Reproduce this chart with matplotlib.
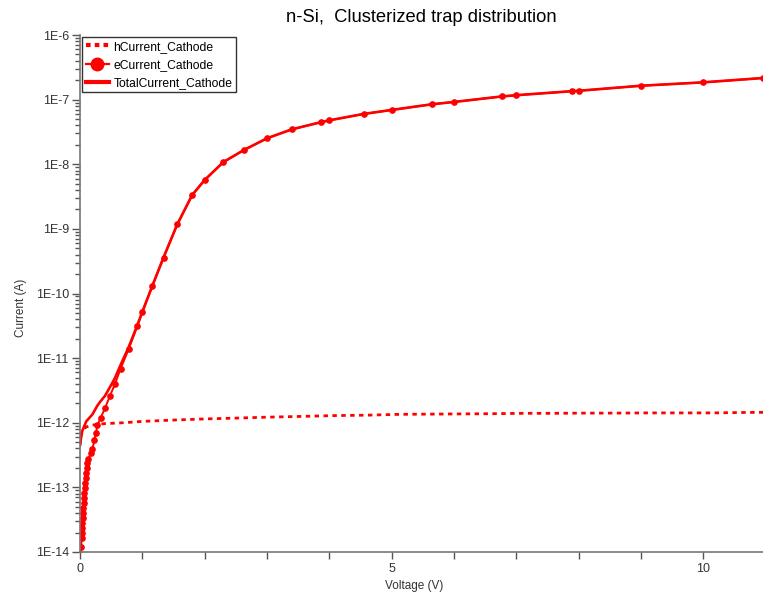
import matplotlib
matplotlib.use("Agg")
import matplotlib.pyplot as plt
from matplotlib.lines import Line2D
from matplotlib.ticker import FixedLocator, LogLocator, NullFormatter, FuncFormatter
import numpy as np

# ---- data ----
e_v = [0.015, 0.02, 0.025, 0.03, 0.035, 0.04, 0.045, 0.05, 0.055, 0.06, 0.065, 0.07, 0.075, 0.08,
       0.09, 0.1, 0.11, 0.12, 0.135, 0.17, 0.2, 0.23, 0.255, 0.28, 0.33, 0.4, 0.48, 0.56, 0.65,
       0.78, 0.92, 1.0, 1.16, 1.34, 1.56, 1.8, 2.0, 2.3, 2.63, 3.0, 3.4, 3.86, 4.0, 4.55, 5.0,
       5.65, 6.0, 6.77, 7.0, 7.89, 8.0, 9.0, 10.0, 10.96]
e_i = [9e-15, 1.21e-14, 1.63e-14, 1.95e-14, 2.33e-14, 2.78e-14, 3.32e-14, 3.97e-14, 4.74e-14,
       5.66e-14, 6.76e-14, 8.09e-14, 9.68e-14, 1.16e-13, 1.38e-13, 1.65e-13, 1.97e-13, 2.36e-13,
       2.72e-13, 3.37e-13, 3.89e-13, 5.4e-13, 6.9e-13, 9.2e-13, 1.18e-12, 1.67e-12, 2.6e-12,
       3.94e-12, 6.8e-12, 1.37e-11, 3.14e-11, 5.1e-11, 1.3e-10, 3.6e-10, 1.17e-9, 3.34e-9,
       5.7e-9, 1.08e-8, 1.66e-8, 2.52e-8, 3.47e-8, 4.46e-8, 4.78e-8, 6.0e-8, 6.92e-8, 8.48e-8,
       9.2e-8, 1.12e-7, 1.17e-7, 1.35e-7, 1.37e-7, 1.64e-7, 1.85e-7, 2.16e-7]

h_v = [0.0, 0.01, 0.03, 0.06, 0.1, 0.2, 0.4, 0.7, 1.0, 1.5, 1.93, 2.5, 3.0, 3.5, 4.07, 4.6,
       5.14, 5.6, 6.1, 6.6, 7.12, 7.6, 8.1, 8.6, 9.1, 9.6, 10.17, 10.6, 10.96]
h_i = [4.5e-13, 5.8e-13, 7.0e-13, 8.0e-13, 8.6e-13, 9.2e-13, 9.7e-13, 1.0e-12, 1.05e-12,
       1.1e-12, 1.14e-12, 1.18e-12, 1.22e-12, 1.25e-12, 1.29e-12, 1.31e-12, 1.35e-12, 1.36e-12,
       1.37e-12, 1.38e-12, 1.40e-12, 1.40e-12, 1.41e-12, 1.41e-12, 1.42e-12, 1.42e-12, 1.42e-12,
       1.44e-12, 1.45e-12]

t_v = [0.0, 0.03, 0.1, 0.2, 0.28, 0.33, 0.4, 0.48, 0.56, 0.65, 0.78, 0.92, 1.0, 1.16, 1.34,
       1.56, 1.8, 2.0, 2.3, 2.63, 3.0, 3.4, 3.86, 4.0, 4.55, 5.0, 5.65, 6.0, 6.77, 7.0, 7.89,
       8.0, 9.0, 10.0, 10.96]
t_i = [4.5e-13, 7.2e-13, 1.05e-12, 1.35e-12, 1.85e-12, 2.15e-12, 2.6e-12, 3.55e-12, 4.9e-12,
       7.8e-12, 1.47e-11, 3.24e-11, 5.2e-11, 1.31e-10, 3.6e-10, 1.17e-9, 3.34e-9, 5.7e-9,
       1.08e-8, 1.66e-8, 2.52e-8, 3.47e-8, 4.46e-8, 4.78e-8, 6.0e-8, 6.92e-8, 8.48e-8, 9.2e-8,
       1.12e-7, 1.17e-7, 1.35e-7, 1.37e-7, 1.64e-7, 1.85e-7, 2.16e-7]

series_names = ["hCurrent_Cathode", "eCurrent_Cathode", "TotalCurrent_Cathode"]
title = "n-Si,  Clusterized trap distribution"
x_label = "Voltage (V)"
y_label = "Current (A)"
x_ticks = [0, 5, 10]
y_ticks = [1e-14, 1e-13, 1e-12, 1e-11, 1e-10, 1e-9, 1e-8, 1e-7, 1e-6]
y_tick_labels = ["1E-14", "1E-13", "1E-12", "1E-11", "1E-10", "1E-9", "1E-8", "1E-7", "1E-6"]

plt.rcParams['font.family'] = ['Liberation Sans', 'DejaVu Sans']
RED = '#ff0000'
TXT = '#333333'

fig = plt.figure(figsize=(7.63, 5.96), dpi=100)
ax = fig.add_axes([80/763, 1 - 552/596, 1 - 80/763, (552 - 35)/596])

ax.plot(h_v, h_i, color=RED, lw=2.0, linestyle=(0, (1.6, 1.6)), dash_capstyle='butt')
ax.plot(e_v, e_i, color=RED, lw=1.4, marker='o', markersize=3.8)
ax.plot(t_v, t_i, color=RED, lw=1.9)

ax.set_yscale('log')
ax.set_xlim(0, 10.96)
ax.set_ylim(1e-14, 1e-6)

ax.yaxis.set_major_locator(FixedLocator(y_ticks))
ax.yaxis.set_major_formatter(FuncFormatter(lambda v, p: y_tick_labels[y_ticks.index(v)] if v in y_ticks else ""))
ax.yaxis.set_minor_locator(LogLocator(base=10, subs=np.arange(2, 10)))
ax.yaxis.set_minor_formatter(NullFormatter())
ax.xaxis.set_major_locator(FixedLocator(x_ticks))
ax.xaxis.set_minor_locator(FixedLocator([1, 2, 3, 4, 6, 7, 8, 9]))

ax.tick_params(axis='y', which='major', length=6, width=1, colors='#555555', labelcolor=TXT, labelsize=9, pad=2)
ax.tick_params(axis='y', which='minor', length=3.5, width=1, colors='#555555')
ax.tick_params(axis='x', which='both', length=5, width=1, colors='#555555', labelcolor=TXT, labelsize=9, pad=3)

for s in ['top', 'right']:
    ax.spines[s].set_visible(False)
for s in ['left', 'bottom']:
    ax.spines[s].set_color('#777777')
    ax.spines[s].set_linewidth(1.2)

ax.set_xlabel(x_label, fontsize=8.5, color=TXT)
ax.xaxis.set_label_coords(0.49, -0.055)
ax.set_ylabel(y_label, fontsize=8.5, color=TXT)
ax.yaxis.set_label_coords(-0.077, 0.472)
ax.set_title(title, fontsize=13.2, color='black', pad=9)

handles = [
    Line2D([], [], color=RED, lw=3, linestyle=(0, (1.1, 1.0))),
    Line2D([], [], color=RED, lw=1.6, marker='o', markersize=9),
    Line2D([], [], color=RED, lw=3),
]
leg = ax.legend(handles, series_names, loc='upper left', bbox_to_anchor=(0.003, 0.996),
                fontsize=8.7, frameon=True, fancybox=False, borderpad=0.3, handlelength=1.9,
                handletextpad=0.4, labelspacing=0.5, borderaxespad=0.0)
leg.get_frame().set_edgecolor('black')
leg.get_frame().set_linewidth(1.0)

fig.savefig('out.png', dpi=100)
